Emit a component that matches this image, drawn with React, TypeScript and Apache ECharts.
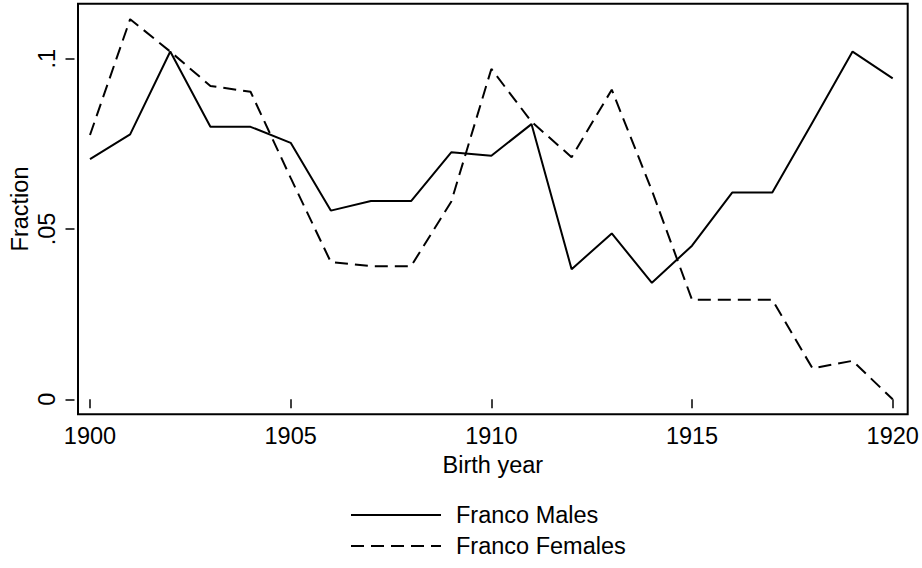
import React, { useEffect, useRef } from "react";
import * as echarts from "echarts";

const years = [1900, 1901, 1902, 1903, 1904, 1905, 1906, 1907, 1908, 1909, 1910, 1911, 1912, 1913, 1914, 1915, 1916, 1917, 1918, 1919, 1920];
const males = [0.0705, 0.0778, 0.1021, 0.08, 0.08, 0.0753, 0.0554, 0.0582, 0.0582, 0.0725, 0.0715, 0.0808, 0.0382, 0.0487, 0.0342, 0.0451, 0.0607, 0.0607, 0.0813, 0.1021, 0.0942];
const females = [0.0776, 0.1116, 0.1021, 0.092, 0.0903, 0.065, 0.0403, 0.0391, 0.0391, 0.058, 0.097, 0.0815, 0.0711, 0.0909, 0.0613, 0.0292, 0.0292, 0.0292, 0.0091, 0.0113, 0.0];
const seriesNames = ["Franco Males", "Franco Females"];
const xTitle = "Birth year";
const yTitle = "Fraction";

const FONT = "'Liberation Sans', Arial, Helvetica, sans-serif";

export default function App() {
  const ref = useRef<HTMLDivElement>(null);
  useEffect(() => {
    if (!ref.current) return;
    const chart = echarts.init(ref.current, null, { renderer: "svg" });
    const txt = { color: "#000", fontFamily: FONT, fontSize: 23.5 };
    chart.setOption({
      animation: false,
      backgroundColor: "#fff",
      grid: [
        { left: 74.5, right: 14.3, top: 3.7, bottom: 153.7, show: true, borderColor: "#000", borderWidth: 2, containLabel: false },
        { left: 90, right: 29.3, top: 58.7, bottom: 168.7, containLabel: false },
      ],
      xAxis: [
        {
          gridIndex: 0, type: "value", min: 0, max: 1,
          name: xTitle, nameLocation: "middle", nameGap: 39, nameTextStyle: txt,
          axisLine: { show: false }, axisTick: { show: false }, axisLabel: { show: false }, splitLine: { show: false },
        },
        {
          gridIndex: 1, type: "value", min: 1900, max: 1920, interval: 5, offset: 15,
          axisLine: { show: false },
          axisTick: { show: true, length: 9, lineStyle: { color: "#000", width: 1.5 } },
          axisLabel: { ...txt, margin: 10, formatter: (v: number) => String(Math.round(v)) },
          splitLine: { show: false },
        },
      ],
      yAxis: [
        {
          gridIndex: 0, type: "value", min: 0, max: 1,
          name: yTitle, nameLocation: "middle", nameGap: 46, nameRotate: 90, nameTextStyle: txt,
          axisLine: { show: false }, axisTick: { show: false }, axisLabel: { show: false }, splitLine: { show: false },
        },
        {
          gridIndex: 1, type: "value", min: 0, max: 0.1, interval: 0.05, offset: 15.5,
          axisLine: { show: false },
          axisTick: { show: true, length: 9, lineStyle: { color: "#000", width: 1.5 } },
          axisLabel: {
            ...txt, margin: 16, rotate: 90,
            formatter: (v: number) => {
              const r = Math.round(v * 100) / 100;
              return r === 0 ? "0" : String(r).replace(/^0\./, ".");
            },
          },
          splitLine: { show: false },
        },
      ],
      legend: {
        orient: "vertical",
        left: 350,
        top: 503,
        padding: 0,
        itemWidth: 90,
        itemHeight: 23,
        itemGap: 7,
        itemStyle: { opacity: 0 },
        textStyle: { ...txt, padding: [0, 0, 0, 10] },
        data: seriesNames,
      },
      series: [
        {
          name: seriesNames[0], type: "line", xAxisIndex: 1, yAxisIndex: 1, clip: false,
          symbol: "none", data: years.map((y, i) => [y, males[i]]),
          lineStyle: { color: "#000", width: 2, type: "solid" },
          itemStyle: { color: "#000" },
        },
        {
          name: seriesNames[1], type: "line", xAxisIndex: 1, yAxisIndex: 1, clip: false,
          symbol: "none", data: years.map((y, i) => [y, females[i]]),
          lineStyle: { color: "#000", width: 2, type: [13, 7] },
          itemStyle: { color: "#000" },
        },
      ],
    });
    return () => chart.dispose();
  }, []);
  return <div ref={ref} style={{ position: "fixed", left: 0, top: 0, width: 922, height: 568 }} />;
}
